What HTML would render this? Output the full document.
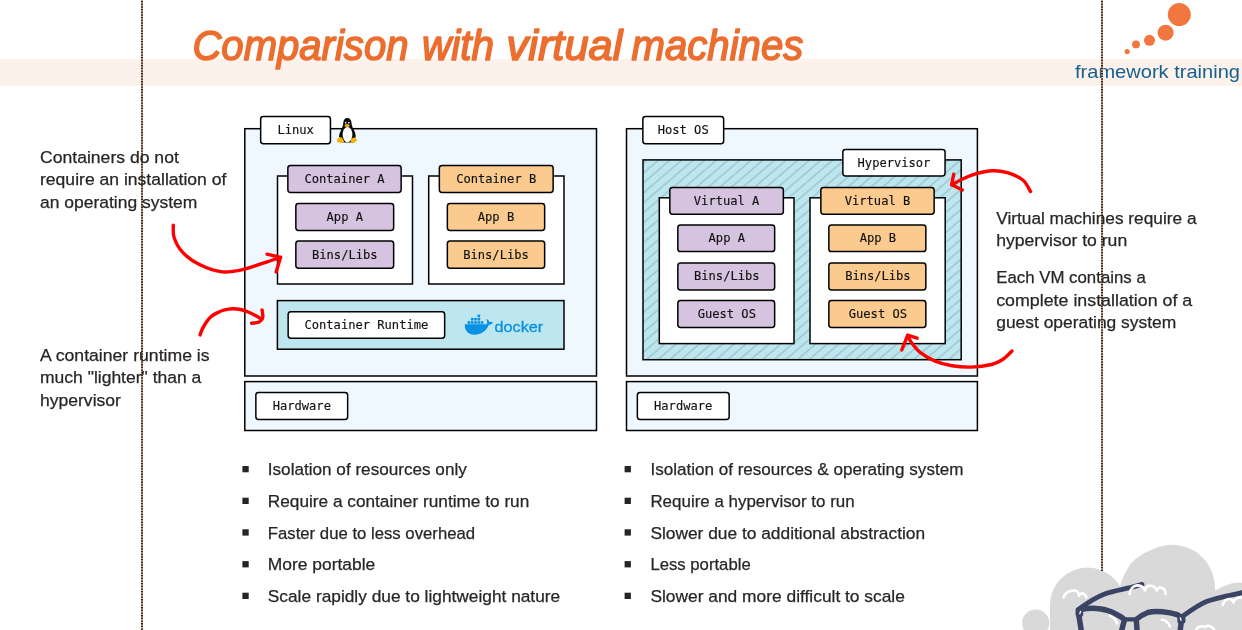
<!DOCTYPE html>
<html lang="en">
<head>
<meta charset="utf-8">
<title>Comparison with virtual machines</title>
<style>
  html, body { margin: 0; padding: 0; background: #ffffff; }
  body { width: 1242px; height: 630px; overflow: hidden; position: relative; }
  svg { position: absolute; left: 0; top: 0; display: block; will-change: transform; }
  .sans { font-family: "Liberation Sans", sans-serif; }
  .ttl  { font-family: "Liberation Sans", sans-serif; font-size: 42.6px; font-weight: 400; font-style: italic; fill: #ec6e2f; stroke: #ec6e2f; stroke-width: 1.6px; stroke-linejoin: round; }
  .mono { font-family: "DejaVu Sans Mono", "Liberation Mono", monospace; font-size: 12.1px; fill: #111; stroke: #111; stroke-width: 0.15px; text-anchor: middle; }
  .note { font-family: "Liberation Sans", sans-serif; font-size: 17.2px; fill: #282624; stroke: #282624; stroke-width: 0.25px; }
  .box  { stroke: #000000; stroke-width: 1.5; }
  .lbl  { stroke: #000000; stroke-width: 1.5; }
  .sq   { fill: #282624; }
</style>
</head>
<body>
<svg width="1242" height="630" viewBox="0 0 1242 630">
  <defs>
    <pattern id="hatch" width="20" height="7.56" patternUnits="userSpaceOnUse" patternTransform="rotate(-40.6)">
      <rect width="20" height="7.56" fill="#bee6ee"/>
      <line x1="0" y1="5.74" x2="20" y2="5.74" stroke="#98c0ca" stroke-width="1.25"/>
    </pattern>
  </defs>

  <!-- header band -->
  <rect x="0" y="58.8" width="1242" height="26.9" fill="#fdf1ec"/>
  <!-- title -->
  <text class="ttl" y="59.6"><tspan x="192.4" textLength="216.1" lengthAdjust="spacingAndGlyphs">Comparison</tspan> <tspan x="422.0" textLength="72.1" lengthAdjust="spacingAndGlyphs">with</tspan> <tspan x="506.5" textLength="115.9" lengthAdjust="spacingAndGlyphs">virtual</tspan> <tspan x="631.5" textLength="171.8" lengthAdjust="spacingAndGlyphs">machines</tspan></text>
  <!-- logo -->
  <g fill="#f2763f">
    <circle cx="1179.3" cy="14.6" r="11.5"/>
    <circle cx="1165.6" cy="32.7" r="8"/>
    <circle cx="1149.5" cy="40.3" r="5.5"/>
    <circle cx="1136" cy="44.4" r="3.9"/>
    <circle cx="1127.2" cy="51.6" r="2.6"/>
  </g>
  <text class="sans" x="1075" y="78" font-size="19" fill="#14618f" textLength="165" lengthAdjust="spacingAndGlyphs">framework training</text>

  <!-- cloud + glasses -->
  <g id="cloud" fill="#d9d9d9">
    <circle cx="1035.7" cy="623" r="13.6"/>
    <circle cx="1087.5" cy="605.2" r="37.6"/>
    <path d="M1119.5 594.0 C1119.7 592.6 1119.9 588.0 1120.4 585.4 C1120.9 582.8 1121.4 581.3 1122.6 578.6 C1123.8 575.9 1125.3 572.2 1127.4 569.0 C1129.5 565.8 1131.1 562.5 1135.1 559.3 C1139.1 556.1 1145.4 552.1 1151.5 549.7 C1157.6 547.3 1165.0 544.8 1171.8 544.8 C1178.6 544.8 1186.7 547.3 1192.1 549.7 C1197.5 552.1 1201.1 556.1 1204.2 559.3 C1207.3 562.5 1208.9 565.8 1210.5 569.0 C1212.1 572.2 1213.2 575.9 1213.9 578.6 C1214.6 581.3 1214.6 583.3 1214.8 585.4 C1215.0 587.5 1215.2 588.8 1215.3 591.2 C1215.4 593.6 1215.5 598.5 1215.5 600.0 L1215.5 632 L1119.5 632 Z"/>
    <circle cx="1240.5" cy="626" r="43.4"/>
    <rect x="1049.9" y="604" width="192.1" height="26"/>
  </g>
  <g id="glasses" fill="none" stroke="#3b4464" stroke-linecap="round" stroke-linejoin="round">
    <path stroke-width="4.9" d="M1079 609 C1090 601 1098 596.5 1104 594.2 C1112 591 1122 589.5 1130.3 587.6 L1142 584.4"/>
    <path stroke-width="4.9" d="M1183 616 C1192 609.5 1200 604 1206.5 601.5 C1218 597.5 1230 595.5 1242 592.7"/>
    <path stroke-width="5.5" d="M1081.5 632 L1078.5 613 L1080 609.5 C1088 608 1092 607.8 1096.6 608.4 C1103 609 1108 610.3 1111.3 611.8 C1116 614 1121 616.5 1124.5 619.5 L1121.3 632"/>
    <path stroke-width="4.2" d="M1124.5 619.3 L1136.2 619.3"/>
    <path stroke-width="5.5" d="M1137.2 632 L1136.2 619.5 C1140 616 1144 614 1147.9 612.5 C1153 611 1158 611.3 1162.6 611.8 C1168 612.3 1173 613.3 1177.2 614.7 L1181.8 617.5 L1180 632"/>
    <rect x="1075.6" y="607.6" width="7.6" height="9.2" rx="2" fill="#3b4464" stroke="none"/>
    <rect x="1177.4" y="614.2" width="8" height="9.2" rx="2" fill="#3b4464" stroke="none"/>
  </g>
  <g id="squiggles" fill="none" stroke="#ffffff" stroke-width="2.6" stroke-linecap="round" stroke-linejoin="round">
    <path d="M1063.7 597.5 C1064.5 593 1070 590 1074.7 590.5 C1078 591 1079 594 1079 596 C1080 593.5 1082 593 1083.5 593.7 C1085 594.5 1086 596 1086.4 597.3"/>
    <path d="M1129.6 594 C1130 589 1134 585 1137.7 585.4 C1141.5 585.8 1144 588 1145 590.5 C1146 587 1148.5 585.5 1150.9 585.8 C1153.5 586.2 1156 588.3 1156.7 590.5 C1157.5 588.3 1159.5 587.3 1161.1 587.6 C1164 588.2 1165.5 591 1165.5 594"/>
    <path d="M1222.7 605 C1223.5 601 1227 598.5 1230 599 C1232 599.3 1233 601 1233.3 602.5 C1234.5 599 1238 597 1242 597.5"/>
    <path d="M1196 630 C1197 627 1201 625.5 1205 627 C1207 625 1211 625.5 1214 629"/>
  </g>
  <g fill="none" stroke="#ffffff" stroke-width="2.5" stroke-linecap="round">
    <path d="M1109.8 615.7 C1113 617 1116 620 1117.2 623.5"/>
    <path d="M1161.8 619.8 C1165.5 620.3 1168.5 622.8 1169.9 626.4"/>
    <path stroke-width="1.3" d="M1080.6 611.3 L1079.8 613.7"/>
    <path stroke-width="1.3" d="M1180.3 617.8 L1181 620.3"/>
  </g>

  <!-- guide lines -->
  <line x1="142" y1="0" x2="142" y2="630" stroke="#cfa28c" stroke-width="1.9"/>
  <line x1="142" y1="0" x2="142" y2="630" stroke="#1a1412" stroke-opacity="0.92" stroke-width="1.9" stroke-dasharray="1.3 1.37" stroke-dashoffset="-1"/>
  <line x1="1102" y1="0" x2="1102" y2="571" stroke="#cfa28c" stroke-width="1.9"/>
  <line x1="1102" y1="0" x2="1102" y2="571" stroke="#1a1412" stroke-opacity="0.92" stroke-width="1.9" stroke-dasharray="1.3 1.37" stroke-dashoffset="-1"/>

  <!-- ============ LEFT DIAGRAM ============ -->
  <g id="left">
    <rect class="box" x="244.8" y="128.7" width="351.7" height="247.3" fill="#f0f8ff"/>
    <rect class="lbl" x="260.65000000000003" y="116.60000000000001" width="69.8" height="27.1" rx="2.7" fill="#ffffff"/>
    <text class="mono" x="295.6" y="134.0">Linux</text>
    <rect class="box" x="277.5" y="176" width="135.0" height="108.0" fill="#ffffff"/>
    <rect class="lbl" x="287.85" y="165.4" width="113.3" height="27.1" rx="2.7" fill="#d6c3e0"/>
    <text class="mono" x="344.5" y="182.8">Container A</text>
    <rect class="lbl" x="295.85" y="203.4" width="97.8" height="27.1" rx="2.7" fill="#d6c3e0"/>
    <text class="mono" x="344.8" y="220.8">App A</text>
    <rect class="lbl" x="295.85" y="241.1" width="97.8" height="27.2" rx="2.7" fill="#d6c3e0"/>
    <text class="mono" x="344.8" y="258.6">Bins/Libs</text>
    <rect class="box" x="428.7" y="176" width="135.3" height="108.0" fill="#ffffff"/>
    <rect class="lbl" x="439.35" y="165.4" width="113.8" height="27.1" rx="2.7" fill="#fbca8e"/>
    <text class="mono" x="496.2" y="182.8">Container B</text>
    <rect class="lbl" x="447.35" y="203.4" width="97.3" height="27.1" rx="2.7" fill="#fbca8e"/>
    <text class="mono" x="496.0" y="220.8">App B</text>
    <rect class="lbl" x="447.35" y="241.1" width="97.3" height="27.2" rx="2.7" fill="#fbca8e"/>
    <text class="mono" x="496.0" y="258.6">Bins/Libs</text>
    <rect class="box" x="277.4" y="300.6" width="286.6" height="48.6" fill="#bee6ee"/>
    <rect class="lbl" x="288.15000000000003" y="311.79999999999995" width="156.5" height="26.5" rx="2.7" fill="#ffffff"/>
    <text class="mono" x="366.4" y="329.0">Container Runtime</text>
    <rect class="box" x="244.8" y="381.6" width="351.7" height="48.9" fill="#f0f8ff"/>
    <rect class="lbl" x="255.85" y="392.4" width="91.8" height="27.1" rx="2.7" fill="#ffffff"/>
    <text class="mono" x="301.8" y="409.9">Hardware</text>
  </g>
  <!-- ============ RIGHT DIAGRAM ============ -->
  <g id="right">
    <rect class="box" x="626.5" y="128.7" width="350.9" height="247.3" fill="#f0f8ff"/>
    <rect class="lbl" x="642.85" y="116.60000000000001" width="80.8" height="27.1" rx="2.7" fill="#ffffff"/>
    <text class="mono" x="683.2" y="134.0">Host OS</text>
    <rect class="box" x="643" y="159.9" width="318.2" height="199.8" fill="url(#hatch)"/>
    <rect class="lbl" x="842.85" y="149.4" width="102.2" height="26.6" rx="2.7" fill="#ffffff"/>
    <text class="mono" x="894.0" y="166.6">Hypervisor</text>
    <rect class="box" x="659.3" y="197.8" width="134.7" height="145.8" fill="#ffffff"/>
    <rect class="lbl" x="669.85" y="187.4" width="113.5" height="26.8" rx="2.7" fill="#d6c3e0"/>
    <text class="mono" x="726.6" y="204.7">Virtual A</text>
    <rect class="lbl" x="677.85" y="224.9" width="96.8" height="26.7" rx="2.7" fill="#d6c3e0"/>
    <text class="mono" x="726.8" y="242.2">App A</text>
    <rect class="lbl" x="677.85" y="263.0" width="96.8" height="27.0" rx="2.7" fill="#d6c3e0"/>
    <text class="mono" x="726.8" y="280.4">Bins/Libs</text>
    <rect class="lbl" x="677.85" y="300.59999999999997" width="96.8" height="26.8" rx="2.7" fill="#d6c3e0"/>
    <text class="mono" x="726.8" y="317.9">Guest OS</text>
    <rect class="box" x="810" y="197.8" width="135.2" height="145.8" fill="#ffffff"/>
    <rect class="lbl" x="820.85" y="187.4" width="113.3" height="26.8" rx="2.7" fill="#fbca8e"/>
    <text class="mono" x="877.5" y="204.7">Virtual B</text>
    <rect class="lbl" x="828.85" y="224.9" width="97.0" height="26.7" rx="2.7" fill="#fbca8e"/>
    <text class="mono" x="877.9" y="242.2">App B</text>
    <rect class="lbl" x="828.85" y="263.0" width="97.0" height="27.0" rx="2.7" fill="#fbca8e"/>
    <text class="mono" x="877.9" y="280.4">Bins/Libs</text>
    <rect class="lbl" x="828.85" y="300.59999999999997" width="97.0" height="26.8" rx="2.7" fill="#fbca8e"/>
    <text class="mono" x="877.9" y="317.9">Guest OS</text>
    <rect class="box" x="626.5" y="381.6" width="350.9" height="48.9" fill="#f0f8ff"/>
    <rect class="lbl" x="637.35" y="392.4" width="91.8" height="27.1" rx="2.7" fill="#ffffff"/>
    <text class="mono" x="683.2" y="409.9">Hardware</text>
  </g>
  <!-- tux -->
  <g id="tux">
    <path fill="#0a0a0a" d="M347.3 118 C349.8 118 351.5 120 351.5 123 C351.5 126 353.5 129 354.8 132 C356 135 356 138 354.5 140 L353 142.6 L341.5 142.6 L340 140 C338.5 137.5 339 134.5 340.2 132 C341.5 129 343.3 126 343.3 123 C343.3 120 344.8 118 347.3 118 Z"/>
    <ellipse cx="347.5" cy="134.6" rx="4.9" ry="7.7" fill="#ffffff"/>
    <ellipse cx="345.7" cy="122.7" rx="0.8" ry="0.95" fill="#e4e4e4"/>
    <ellipse cx="348.8" cy="122.7" rx="0.8" ry="0.95" fill="#e4e4e4"/>
    <ellipse cx="347.1" cy="125.4" rx="2.6" ry="1.5" fill="#f2b40a"/>
    <path fill="#f2b40a" d="M337 139.2 L339.5 136.9 L342 137.4 L344.1 141.4 L343.4 142.9 L337.4 142.5 Z"/>
    <path fill="#f2b40a" d="M351 138.4 L355 137.2 L357.3 140.6 L353 143.4 L350.8 142.5 Z"/>
  </g>
  <!-- docker -->
  <g id="docker" fill="#0891e2">
    <path d="M464.8 324.3 L486.5 324.3 C487.5 323 487.3 320.5 486 319 C488 319.5 489.3 321 489.5 322.3 C490.5 321.8 492 322 492.8 322.4 C492.3 323.8 490.5 324.8 488.8 324.8 C486.5 331 481 334.8 474.5 334.8 C468 334.8 464.5 330.5 464.8 324.3 Z"/>
    <rect x="467.6" y="321.2" width="2.7" height="2.6"/>
    <rect x="470.9" y="321.2" width="2.7" height="2.6"/>
    <rect x="474.2" y="321.2" width="2.7" height="2.6"/>
    <rect x="477.5" y="321.2" width="2.7" height="2.6"/>
    <rect x="480.8" y="321.2" width="2.7" height="2.6"/>
    <rect x="470.9" y="317.9" width="2.7" height="2.6"/>
    <rect x="474.2" y="317.9" width="2.7" height="2.6"/>
    <rect x="477.5" y="317.9" width="2.7" height="2.6"/>
    <rect x="477.5" y="314.6" width="2.7" height="2.6"/>
    <text class="sans" x="494.5" y="332" font-size="14.5" stroke="#0891e2" stroke-width="0.3" textLength="48.7" lengthAdjust="spacingAndGlyphs">docker</text>
  </g>

  <!-- ============ NOTES ============ -->
  <g id="notes">
    <text class="note" x="40" y="162.6" textLength="138.8" lengthAdjust="spacingAndGlyphs">Containers do not</text>
    <text class="note" x="40" y="185.2" textLength="186.4" lengthAdjust="spacingAndGlyphs">require an installation of</text>
    <text class="note" x="40" y="207.9" textLength="157.4" lengthAdjust="spacingAndGlyphs">an operating system</text>
    <text class="note" x="40" y="360.8" textLength="169.6" lengthAdjust="spacingAndGlyphs">A container runtime is</text>
    <text class="note" x="40" y="383.4" textLength="161.3" lengthAdjust="spacingAndGlyphs">much "lighter" than a</text>
    <text class="note" x="40" y="405.5" textLength="80.9" lengthAdjust="spacingAndGlyphs">hypervisor</text>
    <text class="note" x="996.2" y="223.6" textLength="200.3" lengthAdjust="spacingAndGlyphs">Virtual machines require a</text>
    <text class="note" x="996.2" y="246.2" textLength="131.0" lengthAdjust="spacingAndGlyphs">hypervisor to run</text>
    <text class="note" x="996.2" y="283.1" textLength="149.6" lengthAdjust="spacingAndGlyphs">Each VM contains a</text>
    <text class="note" x="996.2" y="305.8" textLength="196.0" lengthAdjust="spacingAndGlyphs">complete installation of a</text>
    <text class="note" x="996.2" y="328.4" textLength="180.1" lengthAdjust="spacingAndGlyphs">guest operating system</text>
  </g>
  <!-- ============ BULLETS ============ -->
  <g id="bullets">
    <rect class="sq" x="242.4" y="466.0" width="6.3" height="6.3"/>
    <text class="note" x="267.8" y="475.2" textLength="199.0" lengthAdjust="spacingAndGlyphs">Isolation of resources only</text>
    <rect class="sq" x="242.4" y="497.7" width="6.3" height="6.3"/>
    <text class="note" x="267.8" y="506.9" textLength="261.5" lengthAdjust="spacingAndGlyphs">Require a container runtime to run</text>
    <rect class="sq" x="242.4" y="529.3" width="6.3" height="6.3"/>
    <text class="note" x="267.8" y="538.5" textLength="207.3" lengthAdjust="spacingAndGlyphs">Faster due to less overhead</text>
    <rect class="sq" x="242.4" y="561.1" width="6.3" height="6.3"/>
    <text class="note" x="267.8" y="570.3" textLength="107.4" lengthAdjust="spacingAndGlyphs">More portable</text>
    <rect class="sq" x="242.4" y="592.7" width="6.3" height="6.3"/>
    <text class="note" x="267.8" y="601.9" textLength="292.4" lengthAdjust="spacingAndGlyphs">Scale rapidly due to lightweight nature</text>
    <rect class="sq" x="624.6" y="466.0" width="6.3" height="6.3"/>
    <text class="note" x="650.4" y="475.2" textLength="313.0" lengthAdjust="spacingAndGlyphs">Isolation of resources &amp; operating system</text>
    <rect class="sq" x="624.6" y="497.7" width="6.3" height="6.3"/>
    <text class="note" x="650.4" y="506.9" textLength="204.3" lengthAdjust="spacingAndGlyphs">Require a hypervisor to run</text>
    <rect class="sq" x="624.6" y="529.3" width="6.3" height="6.3"/>
    <text class="note" x="650.4" y="538.5" textLength="274.7" lengthAdjust="spacingAndGlyphs">Slower due to additional abstraction</text>
    <rect class="sq" x="624.6" y="561.1" width="6.3" height="6.3"/>
    <text class="note" x="650.4" y="570.3" textLength="100.3" lengthAdjust="spacingAndGlyphs">Less portable</text>
    <rect class="sq" x="624.6" y="592.7" width="6.3" height="6.3"/>
    <text class="note" x="650.4" y="601.9" textLength="254.5" lengthAdjust="spacingAndGlyphs">Slower and more difficult to scale</text>
  </g>
  <!-- ============ RED ARROWS ============ -->
  <g id="arrows" fill="none" stroke="#ff0000" stroke-width="3.4" stroke-linecap="round" stroke-linejoin="round">
    <path d="M173.3 225.1 C173.4 227.2 172.6 233.0 174.1 237.5 C175.6 242.0 178.3 247.7 182.5 252.2 C186.7 256.7 192.9 261.3 199.5 264.6 C206.1 267.9 214.5 271.1 222.0 271.9 C229.5 272.6 237.0 270.8 244.5 269.1 C252.0 267.4 261.1 263.8 267.1 261.8 C273.1 259.8 278.4 258.1 280.6 257.3"/>
    <path d="M267.1 254.2 L280.6 257.3 L276.1 271.9"/>
    <path d="M200.1 334.9 C200.4 334.0 201.1 331.7 202.1 329.6 C203.1 327.5 204.6 324.5 206.1 322.4 C207.6 320.2 209.2 318.2 210.9 316.7 C212.7 315.1 214.3 314.2 216.6 313.1 C218.9 312.0 221.9 310.6 224.6 309.9 C227.3 309.2 230.0 308.8 232.7 308.7 C235.4 308.6 238.0 308.9 240.7 309.5 C243.4 310.1 246.1 311.2 248.8 312.3 C251.5 313.4 254.7 315.2 256.8 316.3 C258.9 317.4 260.9 318.7 261.7 319.2"/>
    <path d="M262.1 309.9 C262.2 311.2 263.2 315.5 262.7 317.5 C262.2 319.5 261.1 321.1 259.2 322.0 C257.3 322.9 252.9 323.0 251.6 323.2"/>
    <path d="M1030.5 191.5 C1029.2 189.6 1026.7 183.1 1022.8 180.0 C1018.9 176.9 1012.3 174.2 1007.3 172.7 C1002.3 171.2 997.9 170.6 992.8 170.8 C987.6 171.0 981.2 172.4 976.4 173.7 C971.6 175.0 967.9 176.7 963.8 178.5 C959.7 180.3 953.7 183.8 951.7 184.8"/>
    <path d="M953.7 174.2 L951.7 184.8 L962.4 190.1"/>
    <path d="M1012.0 351.0 C1010.5 352.4 1006.1 357.2 1002.7 359.5 C999.3 361.8 996.8 363.2 991.5 364.5 C986.2 365.8 977.8 366.9 971.2 367.1 C964.6 367.3 958.0 366.7 952.0 365.7 C946.0 364.7 940.4 363.3 935.1 361.1 C929.8 358.9 924.4 355.8 920.4 352.7 C916.4 349.6 913.5 345.4 911.4 342.5 C909.3 339.6 908.3 336.6 907.7 335.4"/>
    <path d="M901.8 349.9 L907.7 335.2 L917.1 338.2"/>
  </g>
</svg>
</body>
</html>
